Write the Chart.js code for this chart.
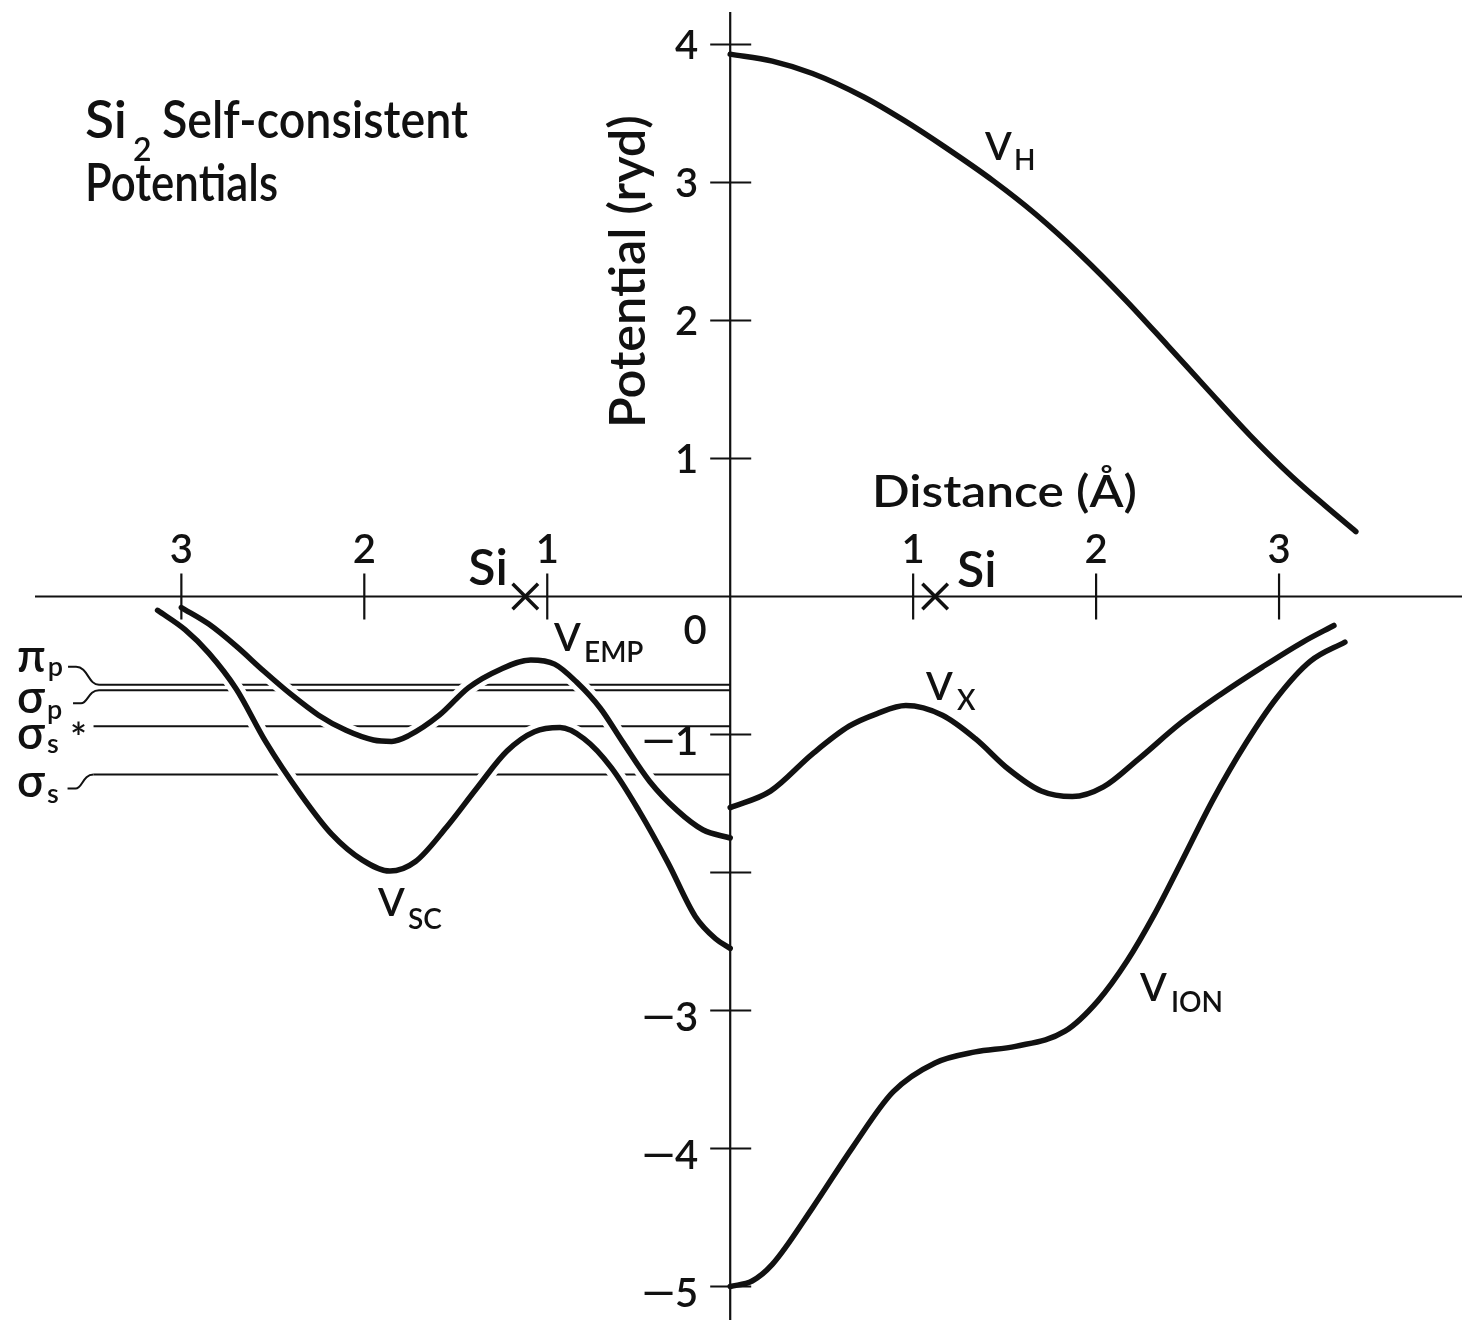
<!DOCTYPE html>
<html>
<head>
<meta charset="utf-8">
<script src="https://cdn.jsdelivr.net/npm/chart.js@4.4.0/dist/chart.umd.min.js"></script>
<style>
  html, body { margin: 0; padding: 0; background: #fff; }
  canvas { display: block; }
</style>
</head>
<body>
<canvas id="potentials" width="1467" height="1326"></canvas>
<script>
// ticks
var xTickValues = [-3, -2, -1, 1, 2, 3];
var xTickLabels = ['3', '2', '1', '1', '2', '3'];
var yTickValues = [4, 3, 2, 1, -1, -2, -3, -4, -5];
var yTickLabels = ['4', '3', '2', '1', '−1', '', '−3', '−4', '−5'];

// V_H (right half)
var hX = [0, 0.23, 0.45, 0.73, 0.95, 1.17, 1.44, 1.67, 1.92, 2.16, 2.39, 2.61, 2.84, 3.07, 3.25, 3.42];
var hY = [3.93, 3.88, 3.79, 3.62, 3.45, 3.26, 3.01, 2.77, 2.47, 2.15, 1.82, 1.50, 1.17, 0.87, 0.66, 0.47];

// V_X (right half)
var xcX = [0, 0.22, 0.45, 0.65, 0.80, 0.96, 1.16, 1.34, 1.52, 1.70, 1.87, 2.04, 2.23, 2.46, 2.68, 2.91, 3.13, 3.30];
var xcY = [-1.53, -1.41, -1.14, -0.94, -0.85, -0.79, -0.86, -1.03, -1.25, -1.41, -1.45, -1.38, -1.18, -0.92, -0.71, -0.51, -0.33, -0.21];

// V_ION (right half)
var ionX = [0, 0.12, 0.23, 0.45, 0.67, 0.89, 1.12, 1.34, 1.56, 1.83, 2.01, 2.17, 2.32, 2.46, 2.64, 2.82, 2.99, 3.17, 3.36];
var ionY = [-5.00, -4.96, -4.84, -4.43, -3.99, -3.59, -3.38, -3.30, -3.26, -3.15, -2.93, -2.64, -2.30, -1.94, -1.47, -1.06, -0.73, -0.47, -0.33];

// V_SC (left half, distance drawn to the left)
var scX = [-3.13, -2.98, -2.85, -2.70, -2.54, -2.35, -2.18, -2.01, -1.86, -1.72, -1.55, -1.38, -1.22, -1.07, -0.93, -0.80, -0.65, -0.50, -0.34, -0.19, -0.08, 0];
var scY = [-0.10, -0.24, -0.41, -0.67, -1.05, -1.43, -1.72, -1.91, -1.99, -1.92, -1.67, -1.38, -1.12, -0.98, -0.95, -1.03, -1.24, -1.55, -1.93, -2.32, -2.48, -2.55];

// V_EMP (left half)
var empX = [-3.00, -2.85, -2.70, -2.55, -2.40, -2.25, -2.10, -1.95, -1.85, -1.76, -1.59, -1.43, -1.26, -1.09, -0.96, -0.84, -0.71, -0.59, -0.44, -0.29, -0.15, 0];
var empY = [-0.08, -0.20, -0.36, -0.54, -0.71, -0.86, -0.97, -1.04, -1.05, -1.01, -0.86, -0.66, -0.53, -0.46, -0.49, -0.62, -0.81, -1.05, -1.34, -1.55, -1.69, -1.75];

// energy levels
var levelSymbols = ['π', 'σ', 'σ', 'σ'];
var levelSubs = ['p', 'p', 's', 's'];
var levelMarks = ['', '', '*', ''];
var levelValues = [-0.64, -0.68, -0.94, -1.29];
var levelFrom = [-3.45, -3.45, -3.48, -3.48];

// Si atom positions
var siAtoms = [-1.12, 1.12];

var ink = '#111';
var FONT = 'Lato, "Noto Sans", "DejaVu Sans", sans-serif';
var W = '600 ';

function pts(xs, ys) {
  var out = [];
  for (var i = 0; i < xs.length; i++) out.push({ x: xs[i], y: ys[i] });
  return out;
}

var curves = [pts(hX, hY), pts(xcX, xcY), pts(ionX, ionY), pts(scX, scY), pts(empX, empY)];

var datasets = [];
for (var i = 0; i < levelValues.length; i++) {
  datasets.push({
    data: [{ x: levelFrom[i], y: levelValues[i] }, { x: 0, y: levelValues[i] }],
    showLine: true, borderColor: ink, borderWidth: 2, pointRadius: 0, order: 3
  });
}
// white halo under each curve so the level lines break where crossed
curves.forEach(function (c) {
  datasets.push({
    data: c, showLine: true, borderColor: '#fff', borderWidth: 15, pointRadius: 0,
    cubicInterpolationMode: 'monotone', borderCapStyle: 'round', order: 2
  });
});
curves.forEach(function (c) {
  datasets.push({
    data: c, showLine: true, borderColor: ink, borderWidth: 5.5, pointRadius: 0,
    cubicInterpolationMode: 'monotone', borderCapStyle: 'round', order: 1
  });
});
datasets.push({
  data: siAtoms.map(function (v) { return { x: v, y: 0 }; }),
  showLine: false, pointStyle: 'crossRot', pointRadius: 18, pointBorderWidth: 3.5,
  pointBorderColor: ink, order: 0
});

function fitText(ctx, text, x, y, size, width) {
  ctx.font = W + size + 'px ' + FONT;
  var w = ctx.measureText(text).width;
  ctx.save();
  ctx.translate(x, y);
  ctx.scale(width / w, 1);
  ctx.fillText(text, 0, 0);
  ctx.restore();
}

function label(ctx, main, sub, x, y, subDx, subDy) {
  ctx.font = W + '39px ' + FONT;
  ctx.fillText(main, x, y);
  ctx.font = W + '28px ' + FONT;
  ctx.fillText(sub, x + subDx, y + subDy);
}

var axesPlugin = {
  id: 'axesPlugin',
  afterDatasetsDraw: function (chart) {
    var ctx = chart.ctx;
    var xs = chart.scales.x, ys = chart.scales.y, area = chart.chartArea;
    var x0 = xs.getPixelForValue(0), y0 = ys.getPixelForValue(0);
    ctx.save();
    ctx.strokeStyle = ink;
    ctx.fillStyle = ink;
    ctx.lineWidth = 2.2;

    // axes and tick marks
    ctx.beginPath();
    ctx.moveTo(area.left, y0); ctx.lineTo(area.right, y0);
    ctx.moveTo(x0, area.top + 2); ctx.lineTo(x0, area.bottom - 1);
    xTickValues.forEach(function (v) {
      var px = xs.getPixelForValue(v);
      ctx.moveTo(px, y0 - 23); ctx.lineTo(px, y0 + 23);
    });
    yTickValues.forEach(function (v) {
      var py = ys.getPixelForValue(v);
      ctx.moveTo(x0 - 20, py); ctx.lineTo(x0 + 21, py);
    });
    ctx.stroke();

    // tick labels
    ctx.textBaseline = 'alphabetic';
    ctx.font = W + '40px ' + FONT;
    ctx.textAlign = 'center';
    xTickValues.forEach(function (v, i) {
      ctx.fillText(xTickLabels[i], xs.getPixelForValue(v), y0 - 34);
    });
    ctx.textAlign = 'right';
    yTickValues.forEach(function (v, i) {
      var t = yTickLabels[i];
      if (!t) return;
      var py = ys.getPixelForValue(v);
      if (t.charAt(0) === '−') {
        var digit = t.slice(1);
        ctx.fillText(digit, x0 - 32, py + 20);
        var dw = ctx.measureText(digit).width;
        ctx.save();
        ctx.translate(x0 - 32 - dw + 2, py + 20);
        ctx.scale(1.6, 1);
        ctx.fillText('−', 0, 0);
        ctx.restore();
      } else {
        ctx.fillText(t, x0 - 32, py + 14);
      }
    });
    ctx.textAlign = 'center';
    ctx.fillText('0', x0 - 35, y0 + 47);

    // energy levels: names and leaders
    ctx.textAlign = 'left';
    var subDy = [4, 6, 4, 6];
    levelValues.forEach(function (v, i) {
      var sx = xs.getPixelForValue(levelFrom[i]);
      var sy = ys.getPixelForValue(v);
      var lead = [[-31, -18], [-26, 13], null, [-26, 14]][i];
      var base = [sy - 13, sy + 23, sy + 23, sy + 22][i];
      ctx.font = W + '46px ' + FONT;
      ctx.fillText(levelSymbols[i], 17, base);
      var w = ctx.measureText(levelSymbols[i]).width;
      ctx.font = W + '27px ' + FONT;
      ctx.fillText(levelSubs[i], 17 + w + 2, base + subDy[i]);
      if (levelMarks[i]) {
        ctx.font = W + '40px ' + FONT;
        ctx.fillText(levelMarks[i], 70, base + 3);
      }
      if (lead) {
        var lx = sx + lead[0], ly = sy + lead[1];
        ctx.lineWidth = 2;
        ctx.beginPath();
        ctx.moveTo(lx, ly);
        ctx.lineTo(lx + 8, ly);
        ctx.bezierCurveTo(sx - 11, ly, sx - 11, sy, sx, sy);
        ctx.stroke();
      }
    });

    // Si atoms
    ctx.font = W + '50px ' + FONT;
    ctx.fillText('Si', xs.getPixelForValue(siAtoms[0]) - 57, y0 - 12);
    ctx.fillText('Si', xs.getPixelForValue(siAtoms[1]) + 22, y0 - 10);

    // curve labels
    label(ctx, 'V', 'H', 985, 160, 29, 10);
    label(ctx, 'V', 'X', 926, 700, 31, 10);
    label(ctx, 'V', 'ION', 1140, 1001, 31, 11);
    label(ctx, 'V', 'SC', 378, 916, 30, 13);
    label(ctx, 'V', 'EMP', 554, 651, 30, 11);

    // titles
    fitText(ctx, 'Si', 85, 138, 52, 42);
    ctx.font = W + '32px ' + FONT;
    ctx.fillText('2', 133, 161);
    fitText(ctx, 'Self-consistent', 162, 138, 52, 306);
    fitText(ctx, 'Potentials', 85, 201, 52, 193);
    fitText(ctx, 'Distance (Å)', 872, 507, 44, 265);

    ctx.save();
    ctx.translate(645, 428);
    ctx.rotate(-Math.PI / 2);
    fitText(ctx, 'Potential (ryd)', 0, 0, 49, 313);
    ctx.restore();

    ctx.restore();
  }
};

var chart = new Chart(document.getElementById('potentials'), {
  type: 'scatter',
  data: { datasets: datasets },
  options: {
    responsive: false,
    animation: false,
    layout: { autoPadding: false, padding: { left: 35, right: 5, top: 10, bottom: 5 } },
    plugins: { legend: { display: false }, tooltip: { enabled: false } },
    scales: {
      x: { type: 'linear', min: -3.8, max: 4.0, display: false },
      y: { type: 'linear', min: -5.25, max: 4.25, display: false }
    }
  },
  plugins: [axesPlugin]
});
</script>
</body>
</html>
